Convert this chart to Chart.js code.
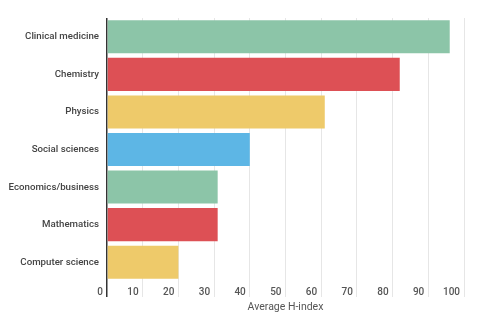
<!DOCTYPE html>
<html>
<head>
<meta charset="utf-8">
<script src="https://cdn.jsdelivr.net/npm/chart.js@4/dist/chart.umd.min.js"></script>
<style>
  html, body { margin: 0; padding: 0; background: #fff; }
  #wrap { width: 500px; height: 322px; }
</style>
</head>
<body>
<div id="wrap"><canvas id="chart"></canvas></div>
<script>
const fields = ['Clinical medicine', 'Chemistry', 'Physics', 'Social sciences', 'Economics/business', 'Mathematics', 'Computer science']
const hIndex = [96, 82, 61, 40, 31, 31, 20]
const barColors = ['#8cc5a8', '#dd5055', '#eeca6a', '#5db6e5', '#8cc5a8', '#dd5055', '#eeca6a']
const xTicks = [0, 10, 20, 30, 40, 50, 60, 70, 80, 90, 100]

const font = { family: 'Roboto', size: 9.7, weight: 500 }

new Chart(document.getElementById('chart'), {
  type: 'bar',
  data: {
    labels: fields,
    datasets: [{
      data: hIndex,
      backgroundColor: barColors,
      borderWidth: 0,
      categoryPercentage: 1,
      barPercentage: 0.88
    }]
  },
  options: {
    indexAxis: 'y',
    responsive: true,
    maintainAspectRatio: false,
    animation: false,
    layout: { padding: { top: 18, right: 36, left: 0, bottom: 8 } },
    plugins: { legend: { display: false }, tooltip: { enabled: false } },
    scales: {
      x: {
        min: 0,
        max: 100,
        afterBuildTicks: (scale) => { scale.ticks = xTicks.map(v => ({ value: v })) },
        afterFit: (scale) => { scale.height = 33 },
        grid: {
          color: (ctx) => ctx.tick && ctx.tick.value === 0 ? '#333' : '#e6e6e6',
          lineWidth: (ctx) => ctx.tick && ctx.tick.value === 0 ? 1.5 : 1,
          tickLength: 16
        },
        border: { display: false },
        ticks: {
          align: 'end',
          labelOffset: -4,
          padding: -11,
          maxRotation: 0,
          color: '#555',
          font: { family: 'Roboto', size: 10, weight: 500 }
        },
        title: {
          display: true,
          text: 'Average H-index',
          color: '#555',
          font: { family: 'Roboto', size: 10.5 },
          padding: { top: 0, bottom: 0 }
        }
      },
      y: {
        afterFit: (scale) => { scale.width = 107 },
        grid: { display: false, drawTicks: false },
        border: { display: false },
        ticks: { padding: 8, color: '#444', font }
      }
    }
  }
})
</script>
</body>
</html>
